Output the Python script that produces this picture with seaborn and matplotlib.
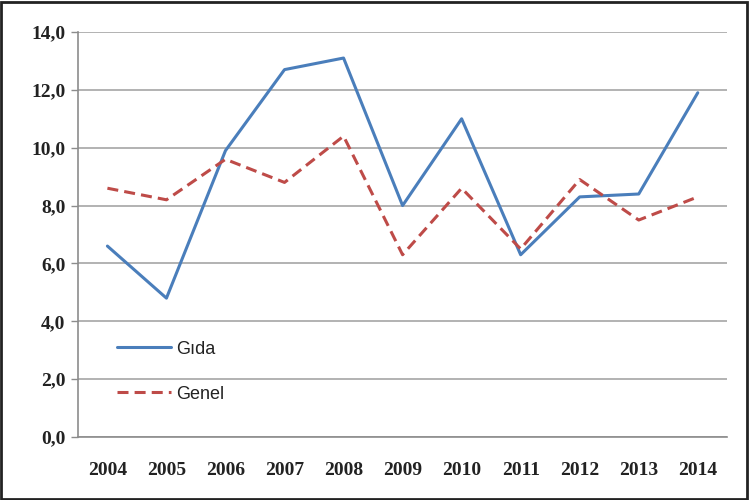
import matplotlib
matplotlib.use("Agg")
import matplotlib.pyplot as plt
import seaborn as sns
import pandas as pd
from matplotlib.patches import Rectangle

years = ["2004", "2005", "2006", "2007", "2008", "2009", "2010", "2011", "2012", "2013", "2014"]
gida = [6.6, 4.8, 9.9, 12.7, 13.1, 8.0, 11.0, 6.3, 8.3, 8.4, 11.9]
genel = [8.6, 8.2, 9.6, 8.8, 10.4, 6.3, 8.6, 6.5, 8.9, 7.5, 8.3]
yticks = [0, 2, 4, 6, 8, 10, 12, 14]

sns.set_theme(style="white")
plt.rcParams["font.family"] = ["Liberation Serif", "DejaVu Serif"]

df = pd.DataFrame({"idx": list(range(len(years))), "Gıda": gida, "Genel": genel})

fig = plt.figure(figsize=(7.49, 5.00), dpi=100)
ax = fig.add_axes([0.104, 0.126, 0.867, 0.810])

sns.lineplot(data=df, x="idx", y="Gıda", ax=ax, color="#4A7EBB", linewidth=2.2, label="Gıda")
sns.lineplot(data=df, x="idx", y="Genel", ax=ax, color="#BE4B48", linewidth=2.2,
             label="Genel", dashes=False)
ax.lines[1].set_dashes([3.6, 2.0])

ax.set_xlim(-0.5, len(years) - 0.5)
ax.set_ylim(0, 14)
ax.set_yticks(yticks)
ax.set_yticklabels([f"{v:.1f}".replace(".", ",") for v in yticks],
                   fontsize=14, fontweight="bold", color="#222222")
ax.set_xticks(range(len(years)))
ax.set_xticklabels(years, fontsize=14, fontweight="bold", color="#222222")
ax.set_xticks([i - 0.5 for i in range(len(years) + 1)], minor=True)
ax.tick_params(axis="x", which="major", length=0, pad=18)
ax.tick_params(axis="x", which="minor", length=7, width=1, color="#8C8C8C", direction="out")
ax.tick_params(axis="y", which="major", length=5, width=1, color="#8C8C8C", direction="out", left=True, pad=4)
ax.set_xlabel("")
ax.set_ylabel("")

ax.grid(axis="y", color="#A6A6A6", linewidth=1.2)
ax.set_axisbelow(True)
for side in ["top", "right"]:
    ax.spines[side].set_visible(False)
for side in ["left", "bottom"]:
    ax.spines[side].set_color("#8C8C8C")
    ax.spines[side].set_linewidth(1.2)

leg = ax.legend(loc="upper left", bbox_to_anchor=(0.035, 0.278), frameon=False,
                labelspacing=1.55, handlelength=3.0, handletextpad=0.3,
                prop={"family": ["Liberation Sans Narrow", "Liberation Sans", "DejaVu Sans"], "size": 13})
for t in leg.get_texts():
    t.set_color("#222222")

fig.patches.append(Rectangle((0.002, 0.003), 0.995, 0.993, transform=fig.transFigure,
                             fill=False, edgecolor="#222222", linewidth=2))

fig.savefig("out.png", dpi=100)
